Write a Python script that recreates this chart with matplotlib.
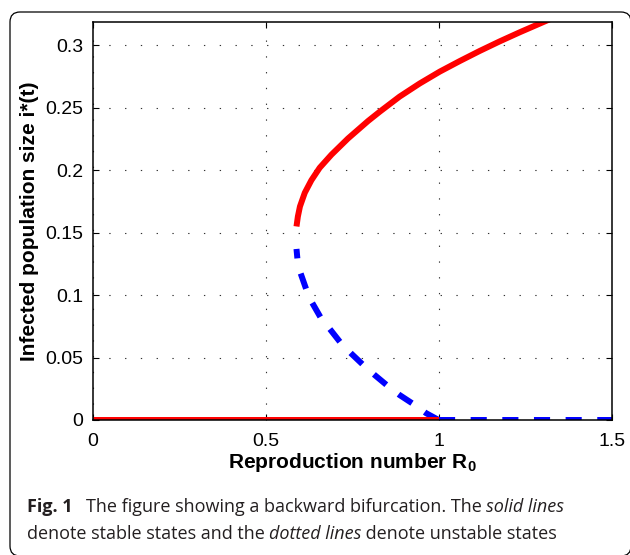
import matplotlib
matplotlib.use("Agg")
import matplotlib.pyplot as plt
from matplotlib.patches import FancyBboxPatch
from matplotlib.transforms import IdentityTransform

# ---- data ----
stable_x = [0.589, 0.593, 0.599, 0.613, 0.632, 0.656, 0.690, 0.738, 0.796, 0.830,
            0.887, 0.945, 1.003, 1.061, 1.118, 1.176, 1.234, 1.313, 1.320]
stable_y = [0.155, 0.163, 0.171, 0.182, 0.192, 0.202, 0.2125, 0.2255, 0.2395, 0.247,
            0.259, 0.2695, 0.279, 0.2875, 0.2955, 0.3032, 0.3105, 0.3200, 0.3208]

unstable_x = [1.000, 0.964, 0.931, 0.887, 0.854, 0.815, 0.786, 0.748, 0.719, 0.685, 0.661,
              0.632, 0.618, 0.599, 0.592, 0.589]
unstable_y = [0.000, 0.0054, 0.012, 0.020, 0.027, 0.036, 0.043, 0.053, 0.061, 0.073, 0.081,
              0.095, 0.104, 0.119, 0.128, 0.137]

dfe_stable_x = [0.0, 1.0]
dfe_stable_y = [0.0, 0.0]
dfe_unstable_x = [1.0, 1.5]
dfe_unstable_y = [0.0, 0.0]

xticks = [0, 0.5, 1, 1.5]
xticklabels = ["0", "0.5", "1", "1.5"]
yticks = [0, 0.05, 0.1, 0.15, 0.2, 0.25, 0.3]
yticklabels = ["0", "0.05", "0.1", "0.15", "0.2", "0.25", "0.3"]

plt.rcParams['font.family'] = ['Liberation Sans', 'DejaVu Sans']
plt.rcParams['mathtext.fontset'] = 'custom'
plt.rcParams['mathtext.rm'] = 'Liberation Sans:bold'
plt.rcParams['mathtext.bf'] = 'Liberation Sans:bold'

W, H = 630, 555
fig = plt.figure(figsize=(W / 100, H / 100), dpi=100)

# outer rounded frame (in pixels)
frame = FancyBboxPatch((10, H - 556), 621, 544, boxstyle="round,pad=0,rounding_size=10",
                       transform=IdentityTransform(), fill=False, edgecolor="black",
                       linewidth=0.9, figure=fig)
fig.patches.append(frame)

ax = fig.add_axes([92.7 / W, 1 - 420 / H, (611.7 - 92.7) / W, (420 - 21.7) / H])

lw = 4.3
ax.plot(stable_x, stable_y, color="#ff0000", lw=lw, solid_capstyle="butt",
        solid_joinstyle="round", zorder=3)
ax.plot(unstable_x, unstable_y, color="#0000ff", lw=lw, dashes=(2.7, 2.6),
        dash_capstyle="butt", zorder=3)
ax.plot(dfe_stable_x, dfe_stable_y, color="#ff0000", lw=lw, solid_capstyle="butt", zorder=3)
ax.plot(dfe_unstable_x, dfe_unstable_y, color="#0000ff", lw=lw, dashes=(2.7, 2.6),
        dash_capstyle="butt", zorder=3)

ax.set_xlim(0, 1.5)
ax.set_ylim(0, 0.319)
ax.set_xticks(xticks)
ax.set_xticklabels(xticklabels)
ax.set_yticks(yticks)
ax.set_yticklabels(yticklabels)
ax.tick_params(direction="in", length=4, width=0.8, labelsize=14, top=True, right=True,
               pad=7)
ax.tick_params(axis="x", pad=9)
ax.grid(True, color="0.2", linestyle=(0, (1.2, 13)), linewidth=0.8)
for s in ax.spines.values():
    s.set_linewidth(1.1)
    s.set_zorder(4)

ax.set_xlabel(r"Reproduction number R$_{\mathbf{0}}$", fontsize=15, fontweight="bold",
              labelpad=1)
ax.set_ylabel("Infected population size i*(t)", fontsize=15, fontweight="bold", labelpad=4)

# caption
cap_font = ['Open Sans', 'DejaVu Sans']
cs = 13
ccol = "#231f20"
y1 = 1 - 507 / H
fig.text(26.5 / W, y1, "Fig. 1", fontsize=cs, fontweight="bold", family=cap_font,
         color=ccol, va="center", ha="left")
t0 = fig.text(86 / W, y1, "The figure showing a backward bifurcation. The ",
              fontsize=cs, family=cap_font, color=ccol, va="center", ha="left")
fig.canvas.draw()
r = fig.canvas.get_renderer()
bb = t0.get_window_extent(r)
fig.text(bb.x1 / W, y1, "solid lines", fontsize=cs, family=cap_font, style="italic",
         color=ccol, va="center", ha="left")

y2 = 1 - 534 / H
a = fig.text(26.5 / W, y2, "denote stable states and the ", fontsize=cs, family=cap_font,
             color=ccol, va="center", ha="left")
bb = a.get_window_extent(r)
b = fig.text(bb.x1 / W, y2, "dotted lines", fontsize=cs, family=cap_font, style="italic",
             color=ccol, va="center", ha="left")
bb = b.get_window_extent(r)
fig.text(bb.x1 / W, y2, " denote unstable states", fontsize=cs, family=cap_font,
         color=ccol, va="center", ha="left")

fig.savefig("out.png", dpi=100)
